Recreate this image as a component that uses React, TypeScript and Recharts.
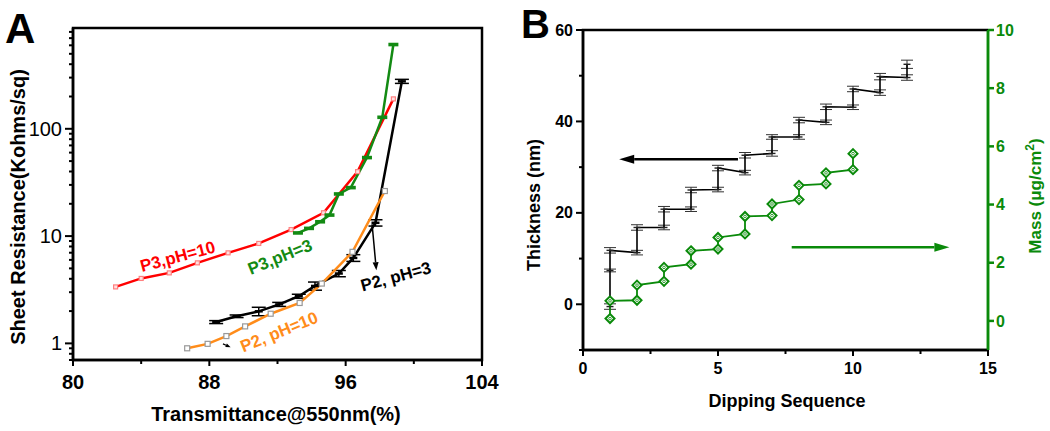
import React from 'react';
import { LineChart, Line, XAxis, YAxis, ErrorBar, ReferenceDot, ReferenceLine } from 'recharts';

const FONT = 'Arial, "Liberation Sans", Helvetica, sans-serif';

// ---------- Panel A data ----------
const xTicksA = [80, 84, 88, 92, 96, 100, 104];
const xLabelsA = [80, 88, 96, 104];
const yTicksA = [0.7, 0.8, 0.9, 1, 2, 3, 4, 5, 6, 7, 8, 9, 10, 20, 30, 40, 50, 60, 70, 80, 90, 100, 200, 300, 400, 500, 600, 700, 800];
const yLabelsA = [1, 10, 100];
const yDomainA = [0.7, 870];
const xDomainA = [80, 104];

const p3pH10X = [82.5, 84.0, 85.65, 87.3, 89.1, 90.9, 92.8, 94.7, 96.7, 98.8];
const p3pH10Y = [3.36, 4.03, 4.54, 5.63, 6.98, 8.54, 11.5, 16.5, 39.9, 190];

const p3pH3X = [93.2, 93.85, 94.5, 95.05, 95.6, 96.3, 97.25, 98.15, 98.8];
const p3pH3Y = [10.7, 11.8, 13.6, 15.7, 24.7, 28.3, 53.9, 128, 610];

const p2pH3X = [88.4, 89.6, 90.9, 92.1, 93.25, 94.2, 95.6, 96.45, 97.75, 99.3];
const p2pH3Y = [1.58, 1.79, 1.99, 2.31, 2.75, 3.43, 4.48, 6.26, 13.3, 277];
const p2pH3Err = [0.05, 0.05, 0.18, 0.1, 0.12, 0.3, 0.3, 0.45, 0.9, 12];

const p2pH10X = [86.7, 87.9, 89.0, 90.1, 91.6, 93.3, 94.6, 96.4, 98.3];
const p2pH10Y = [0.9, 0.99, 1.17, 1.44, 1.89, 2.38, 3.61, 7.13, 26.3];

const labelsA = ['P3,pH=10', 'P3,pH=3', 'P2, pH=3', 'P2, pH=10'];
const labelXA = [86.15, 92.15, 98.95, 92.1];
const labelYA = [6.41, 6.36, 4.17, 1.275];
const labelAngleA = [-15, -22, -15, -22];
const labelColorA = ['#ff0000', '#138a13', '#000000', '#ff8c1a'];

// ---------- Panel B data ----------
const xTicksB = [0, 2.5, 5, 7.5, 10, 12.5, 15];
const xLabelsB = [0, 5, 10, 15];
const yTicksBL = [-10, 0, 10, 20, 30, 40, 50, 60];
const yLabelsBL = [0, 20, 40, 60];
const yTicksBR = [0, 2, 4, 6, 8, 10];
const xDomainB = [0, 15];
const yDomainBL = [-10, 60];
const yDomainBR = [-1, 10];

const thickX = [1, 1, 1, 2, 2, 3, 3, 4, 4, 5, 5, 6, 6, 7, 7, 8, 8, 9, 9, 10, 10, 11, 11, 12, 12];
const thickY = [-0.5, 7.4, 11.8, 11.3, 16.8, 16.8, 20.8, 20.8, 25.0, 25.1, 29.8, 28.8, 32.6, 33.0, 36.6, 36.6, 40.3, 39.8, 43.2, 43.1, 47.1, 46.3, 49.8, 49.6, 52.5];
const thickErr = [0.6, 0.3, 0.6, 0.5, 0.6, 0.5, 0.6, 0.5, 0.6, 0.5, 0.6, 0.5, 0.6, 0.6, 0.5, 0.5, 0.6, 0.5, 0.6, 0.5, 0.6, 0.6, 0.7, 0.6, 0.9];

const massX = [1, 1, 2, 2, 3, 3, 4, 4, 5, 5, 6, 6, 7, 7, 8, 8, 9, 9, 10, 10];
const massY = [0.08, 0.69, 0.71, 1.23, 1.36, 1.84, 1.95, 2.41, 2.47, 2.87, 2.99, 3.59, 3.62, 4.02, 4.17, 4.66, 4.71, 5.09, 5.2, 5.75];

const build = (xs: number[], ys: number[], es?: number[]) =>
  xs.map((x, i) => ({ x, y: ys[i], e: es ? es[i] : 0 }));

const dataP3pH10 = build(p3pH10X, p3pH10Y);
const dataP3pH3 = build(p3pH3X, p3pH3Y);
const dataP2pH3 = build(p2pH3X, p2pH3Y, p2pH3Err);
const dataP2pH10 = build(p2pH10X, p2pH10Y);
const dataThick = build(thickX, thickY, thickErr);
const dataMass = build(massX, massY);

const GREEN_A = '#138a13';
const GREEN_B = '#0a8a0a';
const AXW = 2.5;

// ---------- layout ----------
const A_W = 505, A_H = 431, A_MT = 28, A_MR = 23, A_YW = 73, A_XH = 71;
const B_LEFT = 520, B_W = 530, B_H = 431, B_MT = 30, B_YWL = 63, B_YWR = 62, B_XH = 81;

// ---------- tick renderers ----------
const makeYTickLeft = (labels: number[], major: number, minor: number, fontSize: number, weight: string, color = '#000') => (props: any) => {
  const { x, y, payload } = props;
  const v = payload.value;
  const isMajor = labels.includes(v);
  return (
    <g>
      <line x1={x} x2={x - (isMajor ? major : minor)} y1={y} y2={y} stroke={color} strokeWidth={2} />
      {isMajor && (
        <text x={x - major - 3} y={y} dy="0.35em" textAnchor="end" fontFamily={FONT} fontSize={fontSize} fontWeight={weight} fill={color}>
          {v}
        </text>
      )}
    </g>
  );
};

const makeYTickRight = (len: number, fontSize: number, color: string) => (props: any) => {
  const { x, y, payload } = props;
  return (
    <g>
      <line x1={x} x2={x + len} y1={y} y2={y} stroke={color} strokeWidth={2.5} />
      <text x={x + len + 2} y={y} dy="0.35em" textAnchor="start" fontFamily={FONT} fontSize={fontSize} fontWeight="bold" fill={color}>
        {payload.value}
      </text>
    </g>
  );
};

const makeXTick = (labels: number[], major: number, minor: number, fontSize: number, offset: number) => (props: any) => {
  const { x, y, payload } = props;
  const v = payload.value;
  const isMajor = labels.includes(v);
  return (
    <g>
      <line x1={x} x2={x} y1={y} y2={y + (isMajor ? major : minor)} stroke="#000" strokeWidth={2} />
      {isMajor && (
        <text x={x} y={y + offset} textAnchor="middle" fontFamily={FONT} fontSize={fontSize} fontWeight="bold" fill="#000">
          {v}
        </text>
      )}
    </g>
  );
};

// ---------- markers ----------
const squareDot = (stroke: string, fill: string, s: number) => (props: any) => {
  const { cx, cy, index } = props;
  if (cx == null || cy == null) return <g key={index} />;
  return <rect key={index} x={cx - s / 2} y={cy - s / 2} width={s} height={s} fill={fill} stroke={stroke} strokeWidth={1.2} />;
};

const barDot = (color: string) => (props: any) => {
  const { cx, cy, index } = props;
  if (cx == null || cy == null) return <g key={index} />;
  return <rect key={index} x={cx - 5} y={cy - 1.8} width={10} height={3.6} fill={color} />;
};

const blackDotA = (props: any) => {
  const { cx, cy, index } = props;
  if (cx == null || cy == null) return <g key={index} />;
  return <line key={index} x1={cx - 4} x2={cx + 4} y1={cy} y2={cy} stroke="#000" strokeWidth={2.5} />;
};

const plusDot = (props: any) => {
  const { cx, cy, index } = props;
  if (cx == null || cy == null) return <g key={index} />;
  return <line key={index} x1={cx - 3.5} x2={cx + 3.5} y1={cy} y2={cy} stroke="#222" strokeWidth={1.4} />;
};

const diamondDot = (props: any) => {
  const { cx, cy, index } = props;
  if (cx == null || cy == null) return <g key={index} />;
  const r = 4.5;
  return (
    <g key={index}>
      <polygon points={`${cx},${cy - r} ${cx + r},${cy} ${cx},${cy + r} ${cx - r},${cy}`} fill="#fff" stroke={GREEN_B} strokeWidth={2} />
      <circle cx={cx} cy={cy} r={1.3} fill="none" stroke={GREEN_B} strokeWidth={0.8} />
    </g>
  );
};

// ---------- arrows & labels ----------
const arrowShape = (color: string, sw: number, head: number, headW: number) => (props: any) => {
  const { x1, y1, x2, y2 } = props;
  const ang = Math.atan2(y2 - y1, x2 - x1);
  const bx = x2 - head * Math.cos(ang);
  const by = y2 - head * Math.sin(ang);
  const px = -Math.sin(ang) * headW / 2;
  const py = Math.cos(ang) * headW / 2;
  return (
    <g>
      <line x1={x1} y1={y1} x2={bx} y2={by} stroke={color} strokeWidth={sw} />
      <polygon points={`${x2},${y2} ${bx + px},${by + py} ${bx - px},${by - py}`} fill={color} />
    </g>
  );
};

const rotLabel = (text: string, angle: number, color: string) => (props: any) => {
  const { cx, cy } = props;
  return (
    <text x={cx} y={cy} transform={`rotate(${angle} ${cx} ${cy})`} textAnchor="middle" dominantBaseline="central"
      fontFamily={FONT} fontSize={17} fontWeight="bold" fill={color}>
      {text}
    </text>
  );
};

const PanelA = () => (
  <LineChart width={A_W} height={A_H} margin={{ top: A_MT, right: A_MR, bottom: 0, left: 0 }}>
    <XAxis dataKey="x" type="number" domain={xDomainA} ticks={xTicksA} interval={0} height={A_XH}
      axisLine={{ stroke: '#000', strokeWidth: AXW }} tickLine={false} tickSize={0} tickMargin={0}
      tick={makeXTick(xLabelsA, 6, 4, 20, 29)} allowDataOverflow />
    <YAxis type="number" scale="log" domain={yDomainA} allowDataOverflow ticks={yTicksA} interval={0} width={A_YW}
      axisLine={{ stroke: '#000', strokeWidth: AXW }} tickLine={false} tickSize={0} tickMargin={0}
      tick={makeYTickLeft(yLabelsA, 8, 4, 20, 'normal')} />

    <Line data={dataP3pH10} dataKey="y" stroke="#ff0000" strokeWidth={2.5} isAnimationActive={false}
      dot={squareDot('#ff8080', '#ffe0e0', 4)} />
    <Line data={dataP3pH3} dataKey="y" stroke={GREEN_A} strokeWidth={2.5} isAnimationActive={false}
      dot={barDot(GREEN_A)} />
    <Line data={dataP2pH3} dataKey="y" stroke="#000" strokeWidth={2.5} isAnimationActive={false} dot={blackDotA}>
      <ErrorBar dataKey="e" direction="y" width={7} stroke="#000" strokeWidth={1.5} />
    </Line>
    <Line data={dataP2pH10} dataKey="y" stroke="#ff8c1a" strokeWidth={2.5} isAnimationActive={false}
      dot={squareDot('#999', '#fff', 5)} />

    {labelsA.map((t, i) => (
      <ReferenceDot key={t} x={labelXA[i]} y={labelYA[i]} r={0} ifOverflow="visible"
        shape={rotLabel(t, labelAngleA[i], labelColorA[i])} />
    ))}
    <ReferenceLine segment={[{ x: 97.55, y: 12.9 }, { x: 97.8, y: 4.81 }]} ifOverflow="visible"
      shape={arrowShape('#000', 1.5, 8, 6)} />
    <ReferenceLine segment={[{ x: 88.8, y: 0.99 }, { x: 89.25, y: 0.92 }]} ifOverflow="visible"
      shape={arrowShape('#000', 1.2, 5, 4)} />
  </LineChart>
);

const PanelB = () => (
  <LineChart width={B_W} height={B_H} margin={{ top: B_MT, right: 0, bottom: 0, left: 0 }}>
    <XAxis dataKey="x" type="number" domain={xDomainB} ticks={xTicksB} interval={0} height={B_XH}
      axisLine={{ stroke: '#000', strokeWidth: AXW }} tickLine={false} tickSize={0} tickMargin={0}
      tick={makeXTick(xLabelsB, 6, 4, 16, 24)} />
    <YAxis yAxisId="t" type="number" domain={yDomainBL} ticks={yTicksBL} interval={0} width={B_YWL}
      axisLine={{ stroke: '#000', strokeWidth: AXW }} tickLine={false} tickSize={0} tickMargin={0}
      tick={makeYTickLeft(yLabelsBL, 7, 4, 16, 'bold')} />
    <YAxis yAxisId="m" orientation="right" type="number" domain={yDomainBR} ticks={yTicksBR} interval={0} width={B_YWR}
      axisLine={{ stroke: GREEN_B, strokeWidth: AXW }} tickLine={false} tickSize={0} tickMargin={0}
      tick={makeYTickRight(6, 16, GREEN_B)} />

    <Line yAxisId="t" data={dataThick} dataKey="y" stroke="#000" strokeWidth={1.6} isAnimationActive={false} dot={plusDot}>
      <ErrorBar dataKey="e" direction="y" width={6} stroke="#333" strokeWidth={1} />
    </Line>
    <Line yAxisId="m" data={dataMass} dataKey="y" stroke={GREEN_B} strokeWidth={1.8} isAnimationActive={false} dot={diamondDot} />

    <ReferenceLine yAxisId="t" segment={[{ x: 5.74, y: 31.75 }, { x: 1.34, y: 31.75 }]} ifOverflow="visible"
      shape={arrowShape('#000', 2.5, 15, 9)} />
    <ReferenceLine yAxisId="m" segment={[{ x: 7.73, y: 2.53 }, { x: 13.57, y: 2.53 }]} ifOverflow="visible"
      shape={arrowShape(GREEN_B, 2.5, 15, 9)} />
  </LineChart>
);

const aRight = A_W - A_MR;
const aBottom = A_H - A_XH;
const bL = B_LEFT + B_YWL;
const bR = B_LEFT + B_W - B_YWR;
const bBottom = B_H - B_XH;

const Overlay = () => (
  <svg width={1050} height={431} style={{ position: 'absolute', left: 0, top: 0, pointerEvents: 'none' }}>
    {/* plot frames */}
    <rect x={A_YW} y={A_MT} width={aRight - A_YW} height={aBottom - A_MT} fill="none" stroke="#000" strokeWidth={AXW} />
    <path d={`M${bL},${bBottom} L${bL},${B_MT} L${bR},${B_MT}`} fill="none" stroke="#000" strokeWidth={AXW} />
    <path d={`M${bL},${bBottom} L${bR},${bBottom}`} fill="none" stroke="#000" strokeWidth={AXW} />
    <path d={`M${bR},${B_MT} L${bR},${bBottom}`} fill="none" stroke={GREEN_B} strokeWidth={AXW} />

    <text x={5} y={43} fontFamily={FONT} fontSize={42} fontWeight="bold" fill="#000">A</text>
    <text x={521} y={38} fontFamily={FONT} fontSize={40} fontWeight="bold" fill="#000">B</text>
    <text x={276} y={421} textAnchor="middle" fontFamily={FONT} fontSize={20} fontWeight="bold" fill="#000">
      Transmittance@550nm(%)
    </text>
    <text x={25} y={207} transform="rotate(-90 25 207)" textAnchor="middle" fontFamily={FONT} fontSize={20} fontWeight="bold" fill="#000">
      Sheet Resistance(Kohms/sq)
    </text>
    <text x={787} y={407} textAnchor="middle" fontFamily={FONT} fontSize={18} fontWeight="bold" fill="#000">
      Dipping Sequence
    </text>
    <text x={540} y={205} transform="rotate(-90 540 205)" textAnchor="middle" fontFamily={FONT} fontSize={18} fontWeight="bold" fill="#000">
      Thickness (nm)
    </text>
    <text x={1041} y={196} transform="rotate(-90 1041 196)" textAnchor="middle" fontFamily={FONT} fontSize={17} fontWeight="bold" fill={GREEN_B}>
      <tspan>Mass (μg/cm</tspan>
      <tspan dy={-7} fontSize={12}>2</tspan>
      <tspan dy={7}>)</tspan>
    </text>
  </svg>
);

export default function App() {
  return (
    <div style={{ position: 'absolute', left: 0, top: 0, width: 1050, height: 431, background: '#fff', overflow: 'hidden' }}>
      <div style={{ position: 'absolute', left: 0, top: 0 }}>
        <PanelA />
      </div>
      <div style={{ position: 'absolute', left: B_LEFT, top: 0 }}>
        <PanelB />
      </div>
      <Overlay />
    </div>
  );
}
